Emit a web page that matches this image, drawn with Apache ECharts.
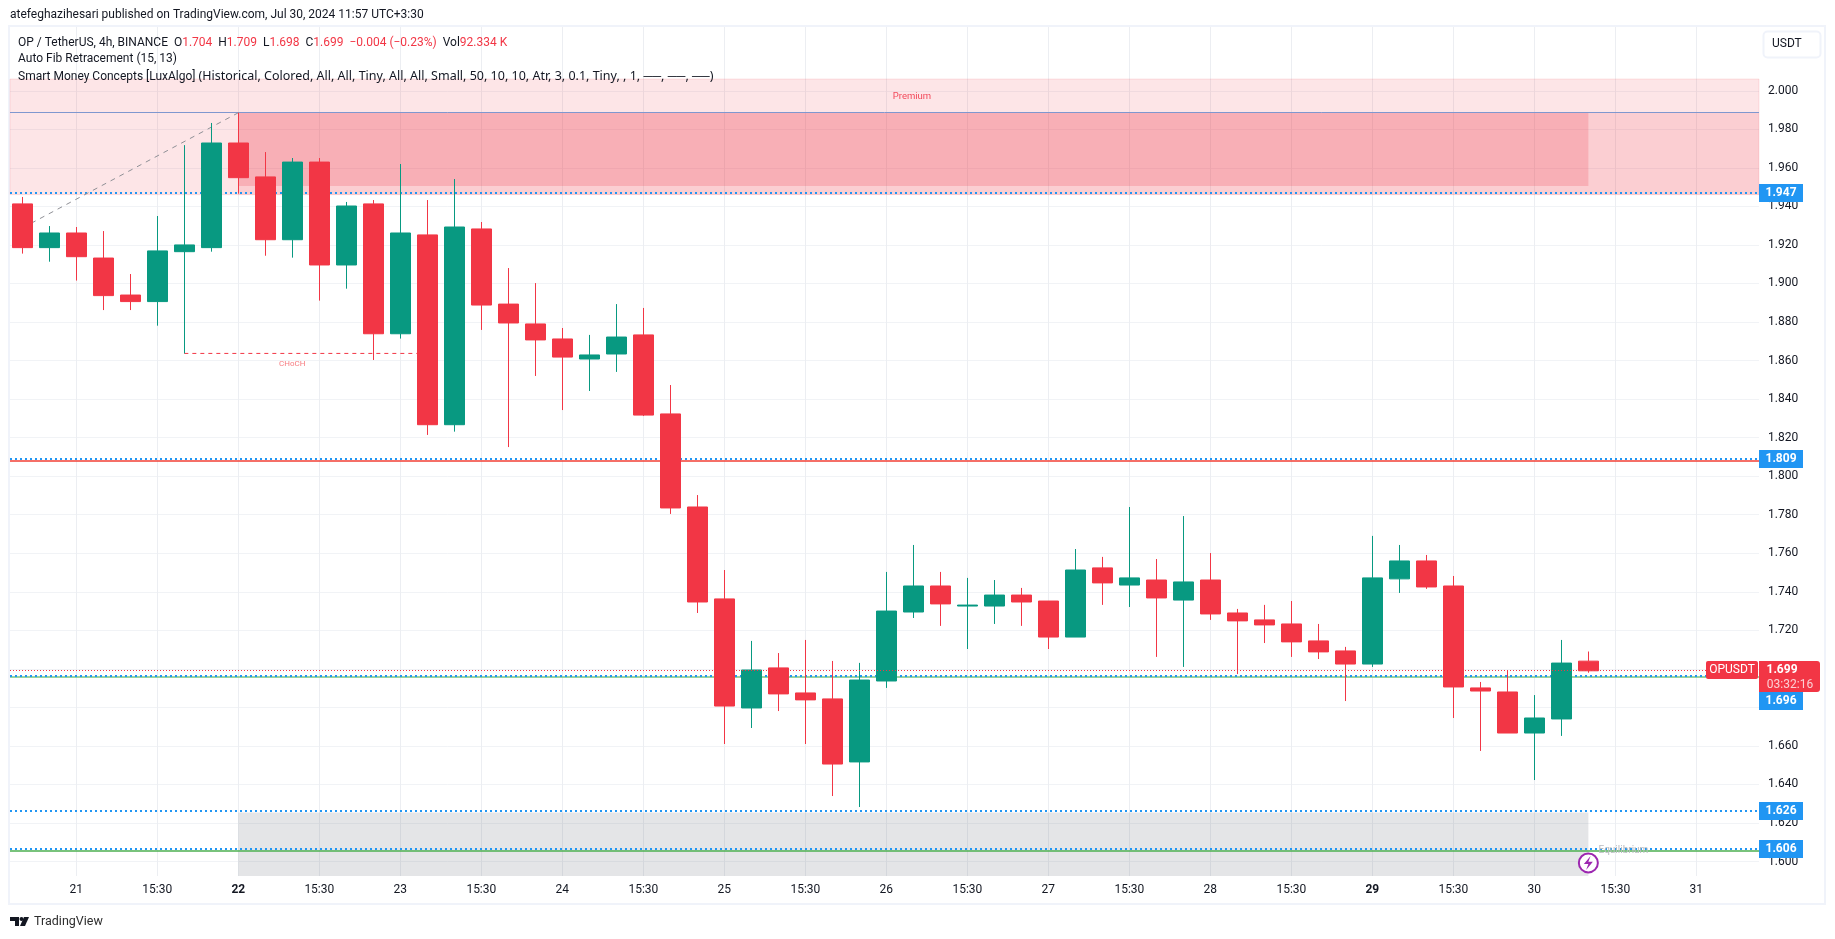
<!DOCTYPE html>
<html>
<head>
<meta charset="utf-8">
<title>OP / TetherUS</title>
<script src="https://cdn.jsdelivr.net/npm/echarts@6/dist/echarts.min.js"></script>
<style>
html,body{margin:0;padding:0;background:#fff;}
#chart{width:1835px;height:939px;}
</style>
</head>
<body>
<div id="chart"></div>
<script>
// candles, one entry per 4h bar
const opens = [1.9413,1.9186,1.9262,1.9132,1.8940,1.8906,1.9165,1.9186,1.9729,1.9553,1.9227,1.9630,1.9096,1.9413,1.8739,1.9252,1.8267,1.9283,1.8893,1.8790,1.8712,1.8608,1.8634,1.8733,1.8323,1.7840,1.7363,1.6797,1.7005,1.6875,1.6844,1.6517,1.6937,1.7295,1.7430,1.7326,1.7326,1.7383,1.7352,1.7165,1.7524,1.7435,1.7461,1.7357,1.7461,1.7290,1.7254,1.7233,1.7145,1.7093,1.7025,1.7467,1.7560,1.7430,1.6901,1.6880,1.6667,1.6740,1.7040];
const closes = [1.9186,1.9262,1.9139,1.8937,1.8906,1.9169,1.9200,1.9729,1.9549,1.9227,1.9630,1.9096,1.9402,1.8739,1.9262,1.8267,1.9293,1.8888,1.8795,1.8707,1.8618,1.8629,1.8722,1.8317,1.7835,1.7347,1.6807,1.6994,1.6870,1.6839,1.6506,1.6942,1.7300,1.7430,1.7337,1.7331,1.7383,1.7347,1.7165,1.7513,1.7446,1.7472,1.7368,1.7451,1.7285,1.7249,1.7228,1.7140,1.7088,1.7025,1.7472,1.7560,1.7425,1.6906,1.6885,1.6667,1.6745,1.7030,1.6990];
const lows = [1.9155,1.9113,1.9015,1.8862,1.8862,1.8781,1.8637,1.9165,1.9466,1.9144,1.9134,1.8911,1.8973,1.8603,1.8714,1.8214,1.8231,1.8759,1.8151,1.8520,1.8343,1.8442,1.8541,1.8312,1.7804,1.7290,1.6610,1.6693,1.6781,1.6610,1.6340,1.6283,1.6901,1.7264,1.7223,1.7103,1.7233,1.7223,1.7103,1.7165,1.7332,1.7321,1.7062,1.7010,1.7254,1.6973,1.7134,1.7062,1.7051,1.6833,1.7010,1.7394,1.7415,1.6745,1.6574,1.6667,1.6423,1.6652,1.6980];
const highs = [1.9449,1.9298,1.9293,1.9272,1.9049,1.9350,1.9718,1.9833,1.9886,1.9682,1.9651,1.9651,1.9423,1.9433,1.9620,1.9433,1.9542,1.9319,1.9080,1.9002,1.8769,1.8733,1.8893,1.8873,1.8473,1.7902,1.7513,1.7145,1.7082,1.7150,1.7041,1.7031,1.7503,1.7643,1.7503,1.7472,1.7461,1.7420,1.7352,1.7622,1.7581,1.7840,1.7570,1.7793,1.7601,1.7311,1.7332,1.7352,1.7233,1.7114,1.7690,1.7643,1.7591,1.7482,1.6932,1.6994,1.6864,1.7150,1.7090];

// one label per three bars, the first at bar 3
const xTickLabels = ['21','15:30','22','15:30','23','15:30','24','15:30','25','15:30','26','15:30','27','15:30','28','15:30','29','15:30','30','15:30','31'];
const xTickValues = [3,6,9,12,15,18,21,24,27,30,33,36,39,42,45,48,51,54,57,60,63];
const boldTicks = ['22','29'];
const yTickValues = [1.60,1.62,1.64,1.66,1.68,1.70,1.72,1.74,1.76,1.78,1.80,1.82,1.84,1.86,1.88,1.90,1.92,1.94,1.96,1.98,2.00];

const zoneTop = 2.0061, fibLevel = 1.9886, zoneLow = 1.9461, zoneInner = 1.9506, discountTop = 1.6254;
const bluePrices = [1.947,1.809,1.6965,1.6262,1.6065];
const tagLabels = ['1.947','1.809','1.696','1.626','1.606'];
const lastPrice = 1.6992, redLevel = 1.8082;
const greenLevels = [1.6961,1.6058];
const greenColors = ['#7ac47f','#4caf50'];
const fibLeg = [[1,1.9288],[9,1.9886]];
const chochLine = [[7,1.8637],[16,1.8637]];

const FONT = 'Roboto, "Liberation Sans", sans-serif';
const INK = '#131722', RED = '#f23645', GREEN = '#089981', BLUE = '#2196f3';
const xMin = 0.544, xMax = 65.32, yMin = 1.5925, yMax = 2.0331;

const candleData = opens.map((o,i)=>[i+1,o,closes[i],lows[i],highs[i]]);

const myChart = echarts.init(document.getElementById('chart'));

// price tags in the axis strip, a tag that would run into the last price one slides below it
function renderTags(params,api){
    const p = api.coord([xMax,api.value(1)]);
    const last = api.coord([xMax,lastPrice]);
    const lastBottom = Math.round(last[1])-9+31;
    const x = Math.round(p[0]);
    let y = Math.round(p[1]);
    if(y-9<lastBottom && y+9>Math.round(last[1])-9) y = lastBottom+9;
    return {type:'group',children:[
        {type:'rect',shape:{x:x,y:y-9,width:44,height:18},style:{fill:BLUE}},
        {type:'text',style:{text:tagLabels[params.dataIndex],x:x+22,y:y,fill:'#fff',font:'bold 12px '+FONT,textAlign:'center',textVerticalAlign:'middle'}}
    ]};
}
function renderLastTag(params,api){
    const p = api.coord([xMax,api.value(1)]);
    const x = Math.round(p[0]), y = Math.round(p[1]);
    return {type:'group',children:[
        {type:'rect',shape:{x:x-53,y:y-9,width:52,height:18,r:2},style:{fill:RED}},
        {type:'rect',shape:{x:x,y:y-9,width:61,height:31,r:[0,3,3,0]},style:{fill:RED}},
        {type:'text',style:{text:'OPUSDT',x:x-27,y:y,fill:'#fff',font:'12px '+FONT,textAlign:'center',textVerticalAlign:'middle'}},
        {type:'text',style:{text:'1.699',x:x+23,y:y,fill:'#fff',font:'bold 12px '+FONT,textAlign:'center',textVerticalAlign:'middle'}},
        {type:'text',style:{text:'03:32:16',x:x+31,y:y+15,fill:'#fbd0d4',font:'12px '+FONT,textAlign:'center',textVerticalAlign:'middle'}}
    ]};
}

const option = {
    animation:false,
    backgroundColor:'#ffffff',
    textStyle:{fontFamily:FONT},
    grid:{left:10,top:27,width:1749,height:849,containLabel:false},
    xAxis:{
        type:'value',min:xMin,max:xMax,
        axisLine:{show:false},axisTick:{show:false,customValues:xTickValues},
        splitLine:{show:true,lineStyle:{color:'#eceef2',width:1}},
        axisLabel:{
            customValues:xTickValues,margin:8,fontSize:12,color:INK,
            formatter:function(v){
                const t = xTickLabels[v/3-1];
                return boldTicks.includes(t)?'{b|'+t+'}':t;
            },
            rich:{b:{fontWeight:'bold',fontSize:12,color:INK}}
        }
    },
    yAxis:{
        type:'value',position:'right',min:yMin,max:yMax,
        axisLine:{show:false},axisTick:{show:false,customValues:yTickValues},
        splitLine:{show:true,lineStyle:{color:'#f1f3f6',width:1}},
        axisLabel:{
            customValues:yTickValues,margin:9,fontSize:12,color:INK,
            formatter:function(v){return v.toFixed(3);}
        }
    },
    title:[
        {text:'atefeghazihesari published on TradingView.com, Jul 30, 2024 11:57 UTC+3:30',left:10,top:9,padding:0,textStyle:{fontSize:12,fontWeight:'normal',color:INK,fontFamily:FONT}},
        {
            text:'OP / TetherUS, 4h, BINANCE  O{r|1.704}  H{r|1.709}  L{r|1.698}  C{r|1.699}  {r|−0.004 (−0.23%)}  Vol{r|92.334 K}',
            left:18,top:37,padding:0,
            textStyle:{fontSize:12,fontWeight:'normal',color:INK,fontFamily:FONT,rich:{r:{color:RED,fontSize:12,fontFamily:FONT}}}
        },
        {text:'Auto Fib Retracement (15, 13)',left:18,top:53,padding:0,textStyle:{fontSize:12,fontWeight:'normal',color:INK,fontFamily:FONT}},
        {
            text:'Smart Money Concepts [LuxAlgo] {p|(Historical, Colored, All, All, Tiny, All, All, Small, 50, 10, 10, Atr, 3, 0.1, Tiny, , 1, ──, ──, ──)}',
            left:18,top:70,padding:0,
            textStyle:{fontSize:12,fontWeight:'normal',color:INK,fontFamily:FONT,rich:{p:{fontSize:12.5,color:INK,fontFamily:'"Noto Sans"'}}}
        },
        {text:'USDT',left:1772,top:38,padding:0,textStyle:{fontSize:12,fontWeight:'normal',color:INK,fontFamily:FONT}},
        {text:'TradingView',left:34,top:915,padding:0,textStyle:{fontSize:12.5,fontWeight:'normal',color:'#2e2e2e',fontFamily:FONT}}
    ],
    graphic:[
        {type:'rect',z:-1,shape:{x:9,y:26,width:1816,height:878},style:{fill:'none',stroke:'#f0f3fa',lineWidth:2}},
        {type:'rect',shape:{x:1763.5,y:31.5,width:57,height:26,r:4},style:{fill:'none',stroke:'#f0f3fa',lineWidth:2}},
        // tradingview mark
        {type:'polygon',shape:{points:[[10,917],[19,917],[19,926],[15,926],[15,921],[10,921]]},style:{fill:INK}},
        {type:'circle',shape:{cx:21.5,cy:919,r:2},style:{fill:INK}},
        {type:'polygon',shape:{points:[[24,917],[29,917],[25,926],[20,926]]},style:{fill:INK}}
    ],
    series:[
        {
            name:'zones',type:'line',data:[],z:1,silent:true,
            markArea:{
                silent:true,
                data:[
                    [{xAxis:xMin,yAxis:zoneTop,itemStyle:{color:'rgba(242,54,69,0.13)',borderColor:'rgba(242,54,69,0.12)',borderWidth:1}},{xAxis:xMax,yAxis:zoneLow}],
                    [{xAxis:9,yAxis:fibLevel,itemStyle:{color:'rgba(242,54,69,0.13)'}},{xAxis:xMax,yAxis:zoneLow}],
                    [{xAxis:9,yAxis:fibLevel,itemStyle:{color:'rgba(242,54,69,0.2)'}},{xAxis:59,yAxis:zoneInner}],
                    [{xAxis:9,yAxis:discountTop,itemStyle:{color:'rgba(120,123,134,0.2)'}},{xAxis:59,yAxis:yMin}]
                ]
            },
            markLine:{
                silent:true,symbol:'none',z:1,precision:4,
                label:{show:false},
                data:[
                    {yAxis:fibLevel,lineStyle:{color:'#7f97cf',width:1,type:'solid'}},
                    {yAxis:redLevel,lineStyle:{color:'#f23f35',width:1.5,type:'solid'}}
                ].concat(greenLevels.map((v,i)=>({yAxis:v,lineStyle:{color:greenColors[i],width:1.5,type:'solid'}})))
                 .concat(bluePrices.map(v=>({yAxis:v,lineStyle:{color:BLUE,width:2,type:[2,3]}})))
            },
            markPoint:{
                silent:true,symbol:'circle',symbolSize:0,
                label:{show:true,position:'inside'},
                data:[
                    {coord:[33.95,1.997],label:{formatter:'Premium',fontSize:9.5,color:'#f2495a'}},
                    {coord:[11,1.8582],label:{formatter:'CHoCH',fontSize:8,color:'#f77c80'}},
                    {coord:[60.3,1.6056],label:{formatter:'Equilibrium',fontSize:10,color:'#b8babf'}}
                ]
            }
        },
        {name:'fib leg',type:'line',data:fibLeg,z:1,silent:true,symbol:'none',lineStyle:{color:'#8f9096',width:1,type:[5,5]}},
        {name:'choch',type:'line',data:chochLine,z:1,silent:true,symbol:'none',lineStyle:{color:RED,width:1,type:[4,4]}},
        {
            name:'OPUSDT',type:'candlestick',data:candleData,z:2,barWidth:20,silent:true,
            itemStyle:{color:GREEN,color0:RED,borderColor:GREEN,borderColor0:RED,borderWidth:1},
            markLine:{
                silent:true,symbol:'none',precision:4,label:{show:false},
                data:[{yAxis:lastPrice,lineStyle:{color:RED,width:1,type:[1,2]}}]
            }
        },
        {
            name:'lightning',type:'line',data:[],z:6,silent:true,
            markPoint:{
                silent:true,
                data:[
                    {coord:[59,1.5993],symbol:'circle',symbolSize:19,itemStyle:{color:'#fff',borderColor:'#9c27b0',borderWidth:2},label:{show:false}},
                    {coord:[59,1.5993],symbol:'path://M6 0 L0 7 L4 7 L2 12 L8 5 L4 5 Z',symbolSize:[9,14],itemStyle:{color:'#9c27b0'},label:{show:false},z:7}
                ]
            }
        },
        {name:'tags',type:'custom',z:8,silent:true,data:bluePrices.map(v=>[xMax,v]),encode:{x:0,y:1},renderItem:renderTags},
        {name:'last',type:'custom',z:9,silent:true,data:[[xMax,lastPrice]],encode:{x:0,y:1},renderItem:renderLastTag}
    ]
};
myChart.setOption(option);
</script>
</body>
</html>
